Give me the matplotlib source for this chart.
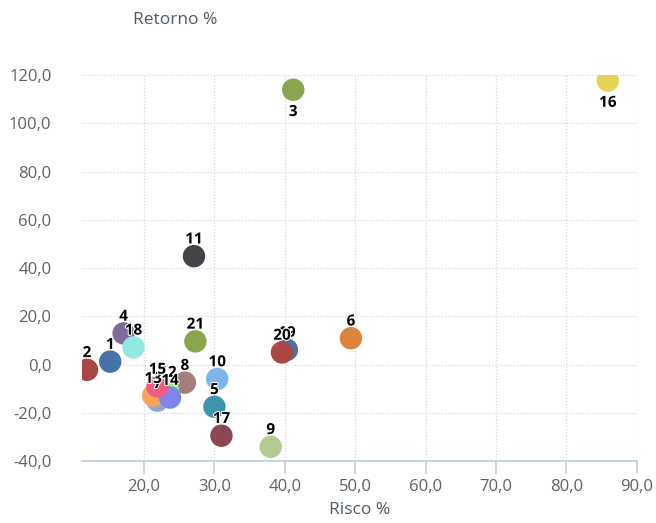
import matplotlib
matplotlib.use("Agg")
import matplotlib.pyplot as plt
import matplotlib.patheffects as pe
from matplotlib.ticker import FuncFormatter, MultipleLocator

labels = ["1", "2", "3", "4", "5", "6", "7", "8", "9", "10", "11",
          "12", "13", "14", "15", "16", "17", "18", "19", "20", "21"]
risco = [15.2, 11.9, 41.2, 17.1, 30.0, 49.4, 21.9, 25.8, 38.0, 30.4, 27.1,
         23.4, 21.3, 23.7, 21.9, 85.9, 31.0, 18.5, 40.3, 39.6, 27.3]
retorno = [1.2, -2.2, 113.9, 12.9, -17.5, 10.9, -15.0, -7.5, -34.1, -6.0, 44.9,
           -10.4, -12.9, -13.7, -9.1, 117.7, -29.5, 7.1, 6.1, 5.0, 9.6]
colors = ["#4572A7", "#AA4643", "#89A54E", "#80699B", "#3D96AE", "#DB843D",
          "#92A8CD", "#A47D7C", "#B5CA92", "#7CB5EC", "#434348", "#90ED7D",
          "#F7A35C", "#8085E9", "#F15C80", "#E4D354", "#8D4653", "#91E8E1",
          "#4572A7", "#AA4643", "#89A54E"]
labels_below = ["3", "16"]

plt.rcParams['font.family'] = ['Open Sans', 'DejaVu Sans']

fig = plt.figure(figsize=(6.56, 5.23), dpi=100)
ax = fig.add_axes([0.125, 0.1185, 0.9706 - 0.125, 0.8566 - 0.1185])

for lab, x, y, c in zip(labels, risco, retorno, colors):
    ax.scatter([x], [y], s=260, color=c, edgecolors='none', zorder=3)

for lab, x, y in zip(labels, risco, retorno):
    if lab in labels_below:
        ax.annotate(lab, (x, y), xytext=(0, -11), textcoords='offset points',
                    ha='center', va='top', fontsize=11, fontweight='bold',
                    color='black', zorder=5,
                    path_effects=[pe.withStroke(linewidth=1.5, foreground='white')])
    else:
        ax.annotate(lab, (x, y), xytext=(0, 7), textcoords='offset points',
                    ha='center', va='bottom', fontsize=11, fontweight='bold',
                    color='black', zorder=5,
                    path_effects=[pe.withStroke(linewidth=1.5, foreground='white')])

ax.set_xlim(11.19, 90)
ax.set_ylim(-40, 120)
ax.xaxis.set_major_locator(MultipleLocator(10))
ax.yaxis.set_major_locator(MultipleLocator(20))
fmt = FuncFormatter(lambda v, p: f"{v:.1f}".replace(".", ","))
ax.xaxis.set_major_formatter(fmt)
ax.yaxis.set_major_formatter(fmt)

ax.grid(True, color='#D8D8D8', linestyle=(0, (1, 1.5)), linewidth=0.9, zorder=0)
ax.set_axisbelow(True)
for s in ['top', 'right', 'left']:
    ax.spines[s].set_visible(False)
ax.spines['bottom'].set_color('#C0D0E0')
ax.spines['bottom'].set_linewidth(1.2)

ax.tick_params(axis='x', colors='#C0D0E0', length=9, width=1.2, direction='out',
               labelcolor='#606060', labelsize=12, pad=4)
ax.tick_params(axis='y', length=0, labelcolor='#606060', labelsize=12, pad=22)

ax.set_xlabel("Risco %", fontsize=12.5, color='#4D5A66', labelpad=5)
fig.text(175 / 656, 1 - 20 / 523, "Retorno %", fontsize=12.5, color='#4D5A66',
         ha='center', va='center')

fig.savefig("out.png", dpi=100)
